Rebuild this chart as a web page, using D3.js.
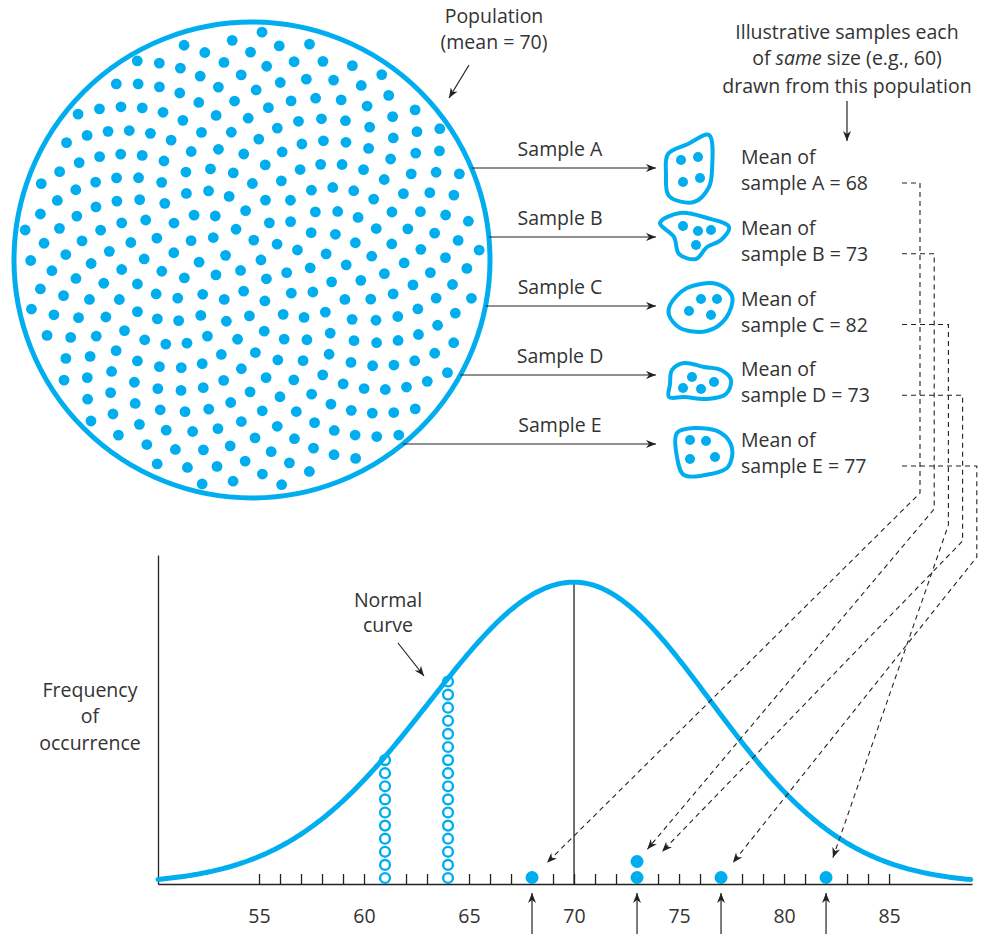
<!DOCTYPE html>
<html>
<head>
<meta charset="utf-8">
<script src="https://cdn.jsdelivr.net/npm/d3@7"></script>
<style>
  body { margin: 0; background: #fff; }
  text { font-family: "Open Sans", sans-serif; fill: #333; font-size: 19.5px; }
</style>
</head>
<body>
<svg width="982" height="934"></svg>
<script>
// values
const sampleNames = ['A', 'B', 'C', 'D', 'E'];
const sampleMeans = [68, 73, 82, 73, 77];
const populationMean = 70;
const majorTicks = [55, 60, 65, 70, 75, 80, 85];
const minorTicks = d3.range(55, 86);
const stackValues = [61, 64];
const stackCounts = [10, 16];
const populationDotCount = 330;
const sigmaLeft = 6.85, sigmaRight = 6.5;

const blue = '#00aeef';
const ink = '#222';

const svg = d3.select('svg');
const width = +svg.attr('width');
const height = +svg.attr('height');

// arrow marker
const defs = svg.append('defs');
defs.append('marker')
    .attr('id', 'arrow')
    .attr('viewBox', '0 0 10 8')
    .attr('refX', 10).attr('refY', 4)
    .attr('markerWidth', 10).attr('markerHeight', 8)
    .attr('markerUnits', 'userSpaceOnUse')
    .attr('orient', 'auto')
  .append('path')
    .attr('d', 'M0,0 L10,4 L0,8 L3,4 Z')
    .attr('fill', ink);

// ---------- top: population circle ----------
const pop = {cx: 252, cy: 260, r: 238};

svg.append('circle')
    .attr('cx', pop.cx).attr('cy', pop.cy).attr('r', pop.r)
    .attr('fill', 'none').attr('stroke', blue).attr('stroke-width', 5);

// even spread of dots (sunflower layout)
const golden = Math.PI * (3 - Math.sqrt(5));
const popDots = d3.range(populationDotCount).map(i => {
    const rr = (pop.r - 8) * Math.sqrt((i + 0.5) / populationDotCount);
    const a = i * golden;
    return [pop.cx + rr * Math.cos(a), pop.cy + rr * Math.sin(a)];
});
svg.append('g').selectAll('circle').data(popDots)
  .enter().append('circle')
    .attr('cx', d => d[0]).attr('cy', d => d[1]).attr('r', 5.4)
    .attr('fill', blue);

svg.append('text').attr('x', 494).attr('y', 23).attr('text-anchor', 'middle').text('Population');
svg.append('text').attr('x', 494).attr('y', 49).attr('text-anchor', 'middle').text(`(mean = ${populationMean})`);
svg.append('line')
    .attr('x1', 469).attr('y1', 65).attr('x2', 449).attr('y2', 98)
    .attr('stroke', ink).attr('stroke-width', 1.2).attr('marker-end', 'url(#arrow)');

// top right note
const note = svg.append('text').attr('text-anchor', 'middle');
note.append('tspan').attr('x', 847).attr('y', 39).text('Illustrative samples each');
const l2 = note.append('tspan').attr('x', 847).attr('y', 65);
l2.append('tspan').text('of ');
l2.append('tspan').attr('font-style', 'italic').text('same');
l2.append('tspan').text(' size (e.g., 60)');
note.append('tspan').attr('x', 847).attr('y', 93).text('drawn from this population');
svg.append('line')
    .attr('x1', 847).attr('y1', 101).attr('x2', 847).attr('y2', 141)
    .attr('stroke', ink).attr('stroke-width', 1.2).attr('marker-end', 'url(#arrow)');

// ---------- samples ----------
const rowY = d3.scalePoint().domain(sampleNames).range([168, 444]);
const labelY = d3.scalePoint().domain(sampleNames).range([157, 440]);

// blob outlines and dots, as offsets from (698, row)
const blobOutlines = {
    A: [[-30,-14],[-10,-24],[11,-33],[14,2],[11,19],[-4,34],[-29,28],[-32,6]],
    B: [[-38,-14],[-18,-24],[9,-19],[31,-10],[23,3],[9,10],[-2,22],[-19,17],[-24,0]],
    C: [[-28,-1],[-11,-18],[19,-22],[34,-10],[28,12],[9,25],[-18,22],[-29,9]],
    D: [[-26,-5],[-14,-12],[6,-8],[23,-5],[33,5],[28,19],[9,24],[-14,22],[-29,22],[-28,9]],
    E: [[-21,-11],[-4,-16],[23,-11],[34,4],[30,23],[13,30],[-14,31],[-21,13]]
};
const blobDots = {
    A: [[-17,-8],[0,-11],[-15,14],[2,10]],
    B: [[-15,-11],[0,-6],[13,-7],[-2,8]],
    C: [[3,-7],[19,-7],[-9,5],[13,9]],
    D: [[-6,2],[16,7],[-15,13],[3,14]],
    E: [[-8,-4],[8,-3],[-8,15],[17,13]]
};
const blobLine = d3.line().curve(d3.curveCatmullRomClosed.alpha(0.5));

sampleNames.forEach((s, i) => {
    const y = rowY(s);
    const bx = 698;
    // circle edge to blob arrow
    const dy = y - pop.cy;
    const x0 = pop.cx + Math.sqrt(pop.r * pop.r - dy * dy);
    svg.append('line')
        .attr('x1', x0).attr('y1', y).attr('x2', 656).attr('y2', y)
        .attr('stroke', ink).attr('stroke-width', 1.2).attr('marker-end', 'url(#arrow)');
    svg.append('text').attr('x', 560).attr('y', y - 12).attr('text-anchor', 'middle').text('Sample ' + s);

    svg.append('path')
        .attr('d', blobLine(blobOutlines[s].map(p => [bx + p[0], y + p[1]])))
        .attr('fill', 'none').attr('stroke', blue).attr('stroke-width', 4);
    svg.append('g').selectAll('circle').data(blobDots[s])
      .enter().append('circle')
        .attr('cx', d => bx + d[0]).attr('cy', d => y + d[1]).attr('r', 5)
        .attr('fill', blue);

    const ly = labelY(s);
    svg.append('text').attr('x', 741).attr('y', ly + 7).text('Mean of');
    svg.append('text').attr('x', 741).attr('y', ly + 33).text(`sample ${s} = ${sampleMeans[i]}`);
});

// ---------- bottom: normal curve ----------
const x = d3.scaleLinear().domain([50.19, 88.95]).range([158, 972]);
const y = d3.scaleLinear().domain([0, 1.09]).range([884, 555]);

const density = v => {
    const s = v < populationMean ? sigmaLeft : sigmaRight;
    return Math.exp(-((v - populationMean) ** 2) / (2 * s * s));
};

const axisG = svg.append('g').attr('transform', `translate(0, ${y(0)})`);
axisG.call(d3.axisBottom(x).tickValues(minorTicks).tickSize(-10).tickSizeOuter(0).tickFormat(''));
axisG.selectAll('path, line').attr('stroke', ink).attr('stroke-width', 1.3);

const labelG = svg.append('g').attr('transform', `translate(0, ${y(0)})`);
labelG.call(d3.axisBottom(x).tickValues(majorTicks).tickSize(0).tickPadding(25));
labelG.select('.domain').remove();
labelG.selectAll('text').attr('font-size', 19.5).attr('font-family', '"Open Sans", sans-serif').attr('fill', '#333');

const yAxisG = svg.append('g').attr('transform', `translate(${x.range()[0]}, 0)`);
yAxisG.call(d3.axisLeft(y).tickValues([]).tickSizeOuter(0));
yAxisG.selectAll('path').attr('stroke', ink).attr('stroke-width', 1.3);

// mean line
svg.append('line')
    .attr('x1', x(populationMean)).attr('x2', x(populationMean))
    .attr('y1', y(1) - 2).attr('y2', y(0))
    .attr('stroke', ink).attr('stroke-width', 1.3);

// stacks of open circles
const stackGap = 13.1;
stackValues.forEach((v, k) => {
    svg.append('g').selectAll('circle').data(d3.range(stackCounts[k]))
      .enter().append('circle')
        .attr('cx', x(v))
        .attr('cy', j => y(0) - 6 - j * stackGap)
        .attr('r', 4.9)
        .attr('fill', '#fff').attr('stroke', blue).attr('stroke-width', 2.4);
});

// the curve
const curvePts = d3.range(50.19, 88.9, 0.1).map(v => [x(v), y(density(v))]);
svg.append('path')
    .attr('d', d3.line()(curvePts))
    .attr('fill', 'none').attr('stroke', blue).attr('stroke-width', 5)
    .attr('stroke-linecap', 'round');

// sample means as dots (later duplicates go underneath)
const meanDots = sampleMeans.map((m, i) => ({
    mean: m,
    level: sampleMeans.slice(i + 1).filter(v => v === m).length
}));
const dotR = 6.5;
svg.append('g').selectAll('circle').data(meanDots)
  .enter().append('circle')
    .attr('cx', d => x(d.mean))
    .attr('cy', d => y(0) - dotR - d.level * 16)
    .attr('r', dotR)
    .attr('fill', blue);

// arrows under axis
const uniqueMeans = Array.from(new Set(sampleMeans));
svg.append('g').selectAll('line').data(uniqueMeans)
  .enter().append('line')
    .attr('x1', d => x(d)).attr('x2', d => x(d))
    .attr('y1', height).attr('y2', y(0) + 9)
    .attr('stroke', ink).attr('stroke-width', 1.2)
    .attr('marker-end', 'url(#arrow)');

// dashed connectors from labels to dots
const tipGap = [21, 16, 21, 36, 19];
sampleNames.forEach((s, i) => {
    const hy = labelY(s) + 26;
    const vx = 920 + i * 14.2;
    const vy = 493 + i * 16;
    const d = meanDots[i];
    const tx = x(d.mean), ty = y(0) - dotR - d.level * 16;
    const len = Math.hypot(tx - vx, ty - vy);
    const ex = tx - (tx - vx) * tipGap[i] / len;
    const ey = ty - (ty - vy) * tipGap[i] / len;
    svg.append('path')
        .attr('d', d3.line()([[902, hy], [vx, hy], [vx, vy], [ex, ey]]))
        .attr('fill', 'none').attr('stroke', ink).attr('stroke-width', 1.1)
        .attr('stroke-dasharray', '5,4')
        .attr('marker-end', 'url(#arrow)');
});

// labels
const nl = svg.append('text').attr('text-anchor', 'middle');
nl.append('tspan').attr('x', 388).attr('y', 607).text('Normal');
nl.append('tspan').attr('x', 388).attr('y', 632).text('curve');
svg.append('line')
    .attr('x1', 398).attr('y1', 643).attr('x2', 424).attr('y2', 676)
    .attr('stroke', ink).attr('stroke-width', 1.2).attr('marker-end', 'url(#arrow)');

const fl = svg.append('text').attr('text-anchor', 'middle');
fl.append('tspan').attr('x', 90).attr('y', 697).text('Frequency');
fl.append('tspan').attr('x', 90).attr('y', 723).text('of');
fl.append('tspan').attr('x', 90).attr('y', 750).text('occurrence');
</script>
</body>
</html>
